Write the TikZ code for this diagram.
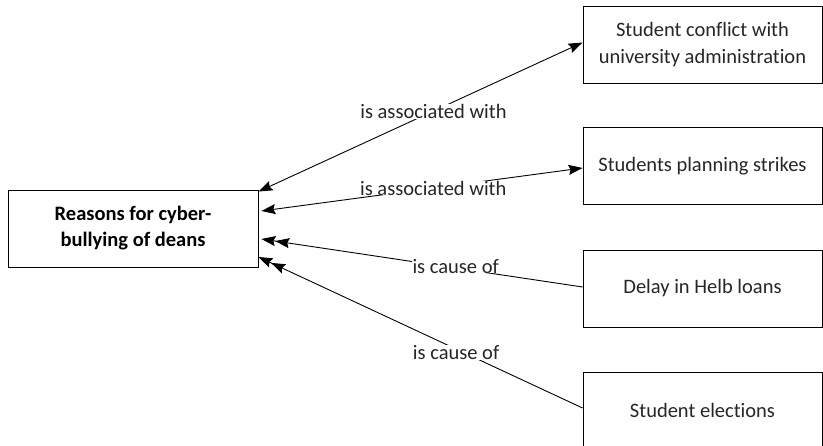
\documentclass[tikz,border=0pt]{standalone}
\usepackage{fontspec}
\setmainfont{Carlito}[Ligatures=NoCommon]
\usetikzlibrary{arrows.meta,calc}
\begin{document}
\begin{tikzpicture}[x=1pt,y=-1pt,
  box/.style={draw=black,line width=0.9pt,rectangle,minimum width=239pt,minimum height=77pt,align=center,font=\fontsize{20.5}{27}\selectfont,text=black!85},
  mainbox/.style={box,minimum width=250pt,font=\bfseries\fontsize{20.5}{26}\selectfont,text=black},
  rel/.style={line width=0.9pt,draw=black},
  tipA/.tip={Stealth[length=14pt,width=10pt,inset=2pt]},
  lab/.style={fill=white,inner sep=0.3pt,font=\fontsize{20.5}{22}\selectfont,text=black!85}
]
\useasboundingbox (0,0) rectangle (823,446);
\clip (0,0) rectangle (823,446);
\node[mainbox] (L) at (133,228.5) {Reasons for cyber-\\bullying of deans};
\node[box] (B1) at (702.5,44.5) {Student conflict with\\university administration};
\node[box] (B2) at (702.5,166) {Students planning strikes};
\node[box] (B3) at (702.5,288.5) {Delay in Helb loans};
\node[box] (B4) at (702.5,410.5) {Student elections};

\draw[rel,{tipA}-{tipA}] ($(L.north east)+(0,2)$) -- node[lab,pos=0.54]{is associated with} ($(B1.west)+(0,-2)$);
\draw[rel,{tipA}-{tipA}] ($(L.east)+(3,-17.5)$) -- node[lab,pos=0.535]{is associated with} ($(B2.west)+(0,2)$);
\draw[rel,{tipA[]tipA}-] ($(L.east)+(3,10.5)$) -- node[lab,pos=0.605,yshift=2pt]{is cause of} ($(B3.west)+(0,-1.5)$);
\draw[rel,{tipA[]tipA}-] ($(L.east)+(0,28.5)$) -- node[lab,pos=0.61,yshift=-3pt]{is cause of} ($(B4.west)+(0,-2.5)$);
\end{tikzpicture}
\end{document}
